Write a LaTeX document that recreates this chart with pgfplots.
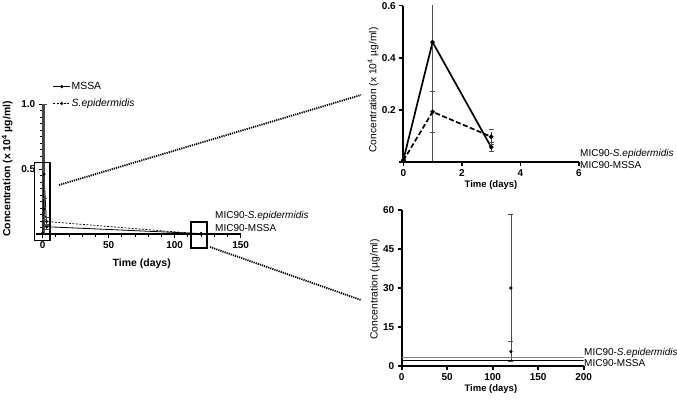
\documentclass[border=0pt]{standalone}
\usepackage{fontspec}
\setmainfont{Liberation Sans}
\usepackage{pgfplots}
\pgfplotsset{compat=1.18}
\pgfplotsset{
  prism/.style={
    scale only axis, clip mode=individual,
    axis x line*=bottom, axis y line*=left,
    tick align=outside, major tick length=4pt, minor tick length=2.5pt,
    /pgf/number format/assume math mode=true,
    every tick label/.append style={font=\bfseries\fontsize{10}{12}\selectfont},
  },
  ebar/.style={error bars/.cd, y dir=both, y explicit,
    error bar style={line width=0.7pt, gray!60!black},
    error mark options={rotate=90, mark size=2.5pt, line width=0.7pt, gray!60!black}},
}
\begin{document}
\begin{tikzpicture}[x=1pt,y=1pt]
\useasboundingbox (0,0) rectangle (677,400);
% ---------------- main plot ----------------
\begin{axis}[prism, at={(42.7pt,166pt)}, anchor=south west,
  width=198pt, height=130pt,
  xmin=0, xmax=150, ymin=0, ymax=1,
  xtick={0,50,100,150}, minor x tick num=4,
  ytick={0,0.5,1}, yticklabels={,0.5,1.0}, minor y tick num=9,
  every tick/.append style={black, line width=1pt},
  every outer x axis line/.append style={line width=1.6pt},
  every outer y axis line/.append style={line width=2pt, draw=gray!55!black},
  xlabel={\bfseries Time (days)},
  ylabel={\bfseries Concentration (x 10\textsuperscript{4} µg/ml)},
  xlabel style={at={(axis description cs:0.5,-0.231)}, anchor=center, font=\fontsize{10.5}{12}\selectfont},
  ylabel style={at={(axis description cs:-0.179,0.5)}, anchor=center, rotate=0, font=\fontsize{10.4}{12}\selectfont},
  legend style={at={(axis description cs:0.05,1.177)}, anchor=north west, draw=none, fill=none,
    font=\fontsize{10.4}{12}\selectfont, row sep=6pt, inner sep=0pt, nodes={inner sep=1pt}},
  legend cell align=left,
]
\addplot[black, line width=0.8pt, mark=*, mark size=1.2pt, ebar] coordinates {
  (0,0.006) +- (0,0.002)
  (1,0.46) +- (0,0.54)
  (3,0.056) +- (0,0.018)
  (120,0.0030) +- (0,0.0028)
};
\addlegendentry{MSSA}
\addplot[black, line width=0.7pt, dash pattern=on 2pt off 1.5pt, mark=*, mark size=1.2pt, mark options={solid}, ebar] coordinates {
  (0,0.004) +- (0,0.002)
  (1,0.192) +- (0,0.08)
  (3,0.096) +- (0,0.03)
  (120,0.00055) +- (0,0.0004)
};
\addlegendentry{\textit{S.epidermidis}}
\addplot[gray, line width=0.7pt, forget plot] coordinates {(0,0.00033) (130,0.00033)};
\addplot[black, line width=0.7pt, forget plot] coordinates {(0,0.00022) (130,0.00022)};
\draw[line width=1.6pt] (axis cs:-5,0) -- (axis cs:0,0);
\end{axis}
% ---------------- top inset ----------------
\begin{axis}[prism, at={(403.3pt,238.3pt)}, anchor=south west,
  width=175.7pt, height=156pt,
  xmin=0, xmax=6, ymin=0, ymax=0.6,
  xtick={0,2,4,6}, ytick={0,0.2,0.4,0.6}, yticklabels={,0.2,0.4,0.6},
  every tick/.append style={black, line width=1.6pt},
  every outer x axis line/.append style={line width=2.2pt},
  every outer y axis line/.append style={line width=2.2pt},
  xlabel={\bfseries Time (days)},
  ylabel={Concentration (x 10\textsuperscript{4} µg/ml)},
  xlabel style={at={(axis description cs:0.499,-0.149)}, anchor=center, font=\fontsize{9.5}{11}\selectfont},
  ylabel style={at={(axis description cs:-0.172,0.46)}, anchor=center, rotate=0, font=\fontsize{10.2}{12}\selectfont},
]
\addplot[black, line width=1.7pt, mark=*, mark size=1.3pt, ebar] coordinates {
  (0,0.006) +- (0,0.002)
  (1,0.46) +- (0,0.54)
  (3,0.056) +- (0,0.018)
};
\addplot[black, line width=1.7pt, dash pattern=on 5pt off 2.5pt, mark=*, mark size=1.3pt, mark options={solid}, ebar] coordinates {
  (0,0.004) +- (0,0.002)
  (1,0.192) +- (0,0.08)
  (3,0.096) +- (0,0.03)
};
\addplot[gray, line width=0.7pt] coordinates {(0,0.00033) (6,0.00033)};
\addplot[black, line width=0.7pt] coordinates {(0,0.00022) (6,0.00022)};
\end{axis}
% ---------------- bottom inset ----------------
\begin{axis}[prism, at={(401.7pt,34pt)}, anchor=south west,
  width=182pt, height=156pt,
  xmin=0, xmax=200, ymin=0, ymax=60,
  xtick={0,50,100,150,200}, ytick={0,15,30,45,60},
  every tick/.append style={black, line width=1.6pt},
  every outer x axis line/.append style={line width=2.2pt},
  every outer y axis line/.append style={line width=2.2pt},
  xlabel={\bfseries Time (days)},
  ylabel={Concentration (µg/ml)},
  xlabel style={at={(axis description cs:0.49,-0.147)}, anchor=center, font=\fontsize{9.5}{11}\selectfont},
  ylabel style={at={(axis description cs:-0.147,0.49)}, anchor=center, rotate=0, font=\fontsize{10.4}{12}\selectfont},
]
\addplot[black, only marks, mark=*, mark size=1.4pt, ebar] coordinates {
  (120,30) +- (0,28.2)
};
\addplot[black, only marks, mark=*, mark size=1.4pt, ebar] coordinates {
  (120,5.5) +- (0,3.9)
};
\addplot[gray, line width=0.9pt] coordinates {(0,3.3) (200,3.3)};
\addplot[black, line width=0.9pt] coordinates {(0,2.2) (200,2.2)};
\end{axis}
% ---------------- annotations ----------------
\draw[line width=1.4pt] (34.3,159.3) rectangle (50,237.7);
\draw[line width=1.4pt] (191,152) rectangle (207,178);
\draw[line width=1.8pt, dash pattern=on 1.2pt off 1pt] (59,215) -- (361,305);
\draw[line width=1.8pt, dash pattern=on 1.2pt off 1pt] (210,153) -- (361,100);
\begin{scope}[every node/.style={anchor=west, inner sep=0pt, font=\fontsize{10}{12}\selectfont}]
\node at (215,184) {MIC90-\textit{S.epidermidis}};
\node at (215,172) {MIC90-MSSA};
\node at (580,245.7) {MIC90-\textit{S.epidermidis}};
\node at (580,235) {MIC90-MSSA};
\node at (584,46.7) {MIC90-\textit{S.epidermidis}};
\node at (584,36.7) {MIC90-MSSA};
\end{scope}
\end{tikzpicture}
\end{document}
